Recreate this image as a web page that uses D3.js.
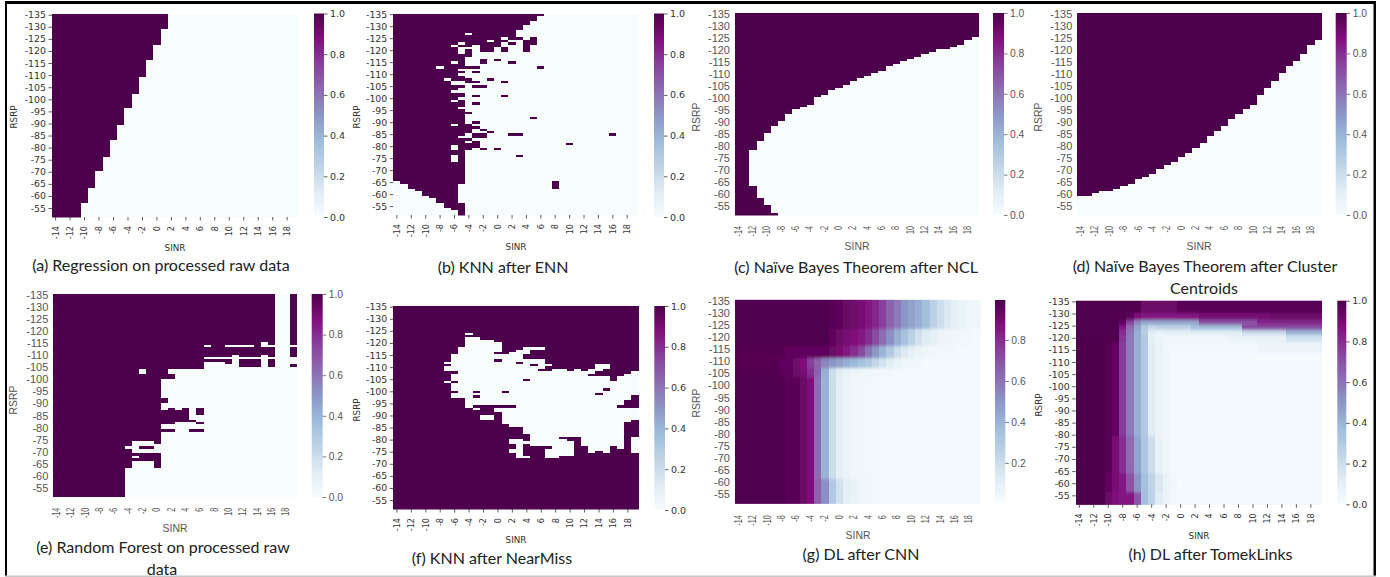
<!DOCTYPE html>
<html>
<head>
<meta charset="utf-8">
<script src="https://cdn.jsdelivr.net/npm/d3@7"></script>
<style>
  html, body { margin: 0; padding: 0; background: #fff; }
  svg { display: block; }
</style>
</head>
<body>
<script>
// axis values, one cell per dB
var sinrValues = d3.range(-14, 20);
var rsrpValues = d3.range(-135, -51);
var sinrTicks = [-14, -12, -10, -8, -6, -4, -2, 0, 2, 4, 6, 8, 10, 12, 14, 16, 18];
var rsrpTicks = [-135, -130, -125, -120, -115, -110, -105, -100, -95, -90, -85, -80, -75, -70, -65, -60, -55];
var barTicks = [0, 0.2, 0.4, 0.6, 0.8, 1];
var barTicksCnn = [0.2, 0.4, 0.6, 0.8];

var buPuStops = [0, 0.125, 0.25, 0.375, 0.5, 0.625, 0.75, 0.875, 1];
var buPuColors = ["#f7fcfd", "#e0ecf4", "#bfd3e6", "#9ebcda", "#8c96c6", "#8c6bb1", "#88419d", "#810f7c", "#4d004b"];

// binary panels are lists of [sinrFrom, sinrTo, rsrpFrom, rsrpTo] blocks, value 1 then holes of value 0
var regressionOnes = [
  [-14, 1, -135, -130], [-14, 0, -129, -123], [-14, -1, -122, -117], [-14, -2, -116, -110],
  [-14, -3, -109, -103], [-14, -4, -102, -97], [-14, -5, -96, -90], [-14, -6, -89, -84],
  [-14, -7, -83, -77], [-14, -8, -76, -71], [-14, -9, -70, -64], [-14, -10, -63, -58], [-14, -11, -57, -52]
];

var ennOnes = [
  [-14, 6, -135, -135], [-14, 5, -134, -133], [-14, 4, -132, -131], [-14, 3, -130, -129], [-14, 2, -128, -126],
  [-14, 3, -125, -125], [5, 5, -125, -123], [-14, 1, -124, -124], [-14, 0, -123, -123], [2, 2, -123, -123],
  [-14, -4, -122, -122], [-2, 0, -122, -122], [4, 4, -124, -120], [-2, -1, -121, -120], [1, 1, -121, -120],
  [-4, -4, -120, -118], [-2, -2, -116, -115], [0, 0, -116, -116], [2, 2, -115, -115],
  [-4, -3, -113, -113], [6, 6, -113, -113], [-3, -3, -111, -111], [-4, -4, -108, -107], [-1, -1, -108, -108],
  [-3, -3, -107, -107], [1, 1, -107, -107], [-3, -2, -105, -105], [-3, -3, -101, -101], [1, 1, -101, -101],
  [-3, -3, -98, -98], [-4, -4, -94, -94], [5, 5, -92, -92], [-3, -3, -90, -90], [-4, -4, -89, -86],
  [-3, -3, -88, -88], [-2, -2, -87, -87], [-1, -1, -86, -86], [-3, -2, -85, -84], [2, 3, -85, -85],
  [16, 16, -85, -85], [-4, -4, -83, -83], [-3, -3, -82, -80], [-4, -4, -81, -79], [10, 10, -81, -81],
  [-2, -2, -79, -79], [0, 0, -79, -79], [3, 3, -76, -76], [8, 8, -65, -63],
  [-14, -14, -121, -66], [-13, -13, -121, -65], [-12, -12, -121, -63], [-11, -11, -121, -62], [-10, -10, -121, -60],
  [-9, -9, -121, -59], [-8, -8, -121, -57], [-7, -7, -121, -55], [-6, -6, -121, -54], [-5, -5, -121, -52]
];
var ennZeros = [
  [-4, -4, -127, -127], [1, 1, -125, -125], [-1, -1, -124, -124], [-5, -5, -123, -123], [-6, -6, -122, -122], [-5, -5, -121, -119],
  [-6, -6, -115, -115], [-8, -8, -113, -113], [-5, -5, -112, -112], [-5, -5, -110, -110], [-7, -7, -108, -108],
  [-6, -5, -107, -106], [-5, -5, -104, -103], [-6, -6, -103, -103], [-5, -5, -100, -100], [-6, -6, -99, -99],
  [-5, -5, -96, -96], [-6, -6, -89, -89], [-5, -5, -84, -84], [-6, -6, -80, -79], [-6, -6, -76, -74], [-5, -5, -64, -57]
];

// last RSRP with value 1, per SINR column
var nclTopEdge = [-52, -52, -79, -83, -86, -89, -91, -94, -96, -97, -98, -101, -102, -104, -105, -106, -108,
  -109, -110, -111, -112, -114, -115, -116, -117, -118, -119, -120, -121, -121, -122, -123, -125, -126];
var nclOnes = [[-12, -12, -63, -52], [-11, -11, -58, -52], [-10, -10, -55, -52], [-9, -9, -52, -52]];
var centroidTopEdge = [-60, -60, -61, -62, -62, -63, -64, -65, -67, -68, -69, -71, -73, -74, -76, -78, -80,
  -82, -85, -87, -89, -92, -94, -96, -98, -102, -105, -108, -111, -114, -116, -119, -123, -125];

var forestOnes = [
  [-14, 16, -135, -110], [-14, 6, -109, -109], [-14, 10, -108, -108], [-14, 6, -107, -105], [10, 10, -107, -107],
  [12, 14, -108, -106], [16, 16, -108, -106], [19, 19, -135, -115], [19, 19, -113, -110], [19, 19, -106, -106],
  [-14, 1, -104, -103], [-14, 2, -102, -101], [-14, 0, -100, -93], [-14, 1, -92, -91], [-14, 0, -90, -88],
  [2, 2, -88, -88], [4, 4, -88, -88], [6, 6, -88, -86], [-14, 4, -87, -84], [-14, 5, -83, -83],
  [-14, 2, -82, -82], [6, 6, -82, -82], [-14, 0, -81, -80], [-14, 2, -79, -79], [5, 6, -79, -79],
  [-14, 0, -78, -75], [-14, -4, -74, -73], [0, 0, -74, -74], [-2, -1, -72, -72], [-14, -5, -72, -72],
  [-14, -4, -71, -70], [-14, 0, -69, -67], [-14, -4, -66, -64], [0, 0, -66, -64], [-14, -5, -63, -52]
];
var forestZeros = [
  [7, 7, -114, -114], [10, 13, -114, -114], [15, 15, -115, -114], [16, 16, -114, -114],
  [11, 11, -110, -106], [15, 15, -110, -106], [-2, -2, -104, -103], [-3, -3, -68, -68]
];

var nearMissOnes = [[-14, 19, -135, -52]];
var nearMissZeros = [
  [-7, -7, -112, -112], [-7, -7, -110, -109], [-7, -7, -104, -104],
  [-6, -6, -115, -109], [-6, -6, -107, -105], [-6, -6, -103, -101], [-6, -6, -99, -98],
  [-5, -5, -118, -98], [-4, -4, -124, -124], [-4, -4, -122, -94], [-3, -3, -122, -93],
  [-2, -2, -121, -95], [-2, -2, -90, -89], [-1, -1, -121, -95], [-1, -1, -90, -89],
  [0, 0, -120, -117], [0, 0, -115, -114], [0, 0, -112, -95], [0, 0, -93, -92],
  [1, 1, -115, -87], [2, 2, -116, -86], [2, 2, -80, -79], [2, 2, -76, -75],
  [3, 3, -117, -86], [3, 3, -80, -73], [4, 4, -118, -83], [4, 4, -79, -79], [4, 4, -73, -73],
  [5, 5, -118, -118], [5, 5, -113, -78], [6, 6, -118, -118], [6, 6, -113, -110], [6, 6, -108, -78],
  [7, 7, -111, -111], [7, 7, -108, -78], [7, 7, -76, -73], [8, 8, -109, -73], [9, 9, -109, -74],
  [10, 10, -108, -82], [10, 10, -79, -74], [11, 11, -109, -82], [12, 12, -108, -78],
  [13, 13, -109, -108], [13, 13, -106, -75], [14, 14, -111, -109], [14, 14, -106, -76],
  [15, 15, -111, -110], [15, 15, -106, -75], [16, 16, -104, -78], [17, 17, -106, -77],
  [18, 18, -107, -97], [18, 18, -93, -88], [19, 19, -108, -99], [19, 19, -93, -89], [19, 19, -81, -75]
];
// strips of value 1 left inside the holes above
var nearMissStrips = [
  [-3, -3, -100, -100], [-3, -3, -98, -98], [-3, -3, -94, -94], [-1, 2, -94, -94], [1, 1, -100, -100],
  [3, 3, -112, -112], [4, 4, -115, -114], [4, 4, -105, -105], [5, 5, -111, -111], [9, 9, -81, -81],
  [14, 14, -99, -99], [15, 15, -101, -101], [17, 17, -94, -94]
];

// soft panels: one row of SINR values for each RSRP band
var cnnBands = [[-135, -124], [-123, -117], [-116, -112], [-111, -108], [-107, -104], [-103, -62], [-61, -52]];
var cnnValues = [
  [.99, .99, .99, .99, .99, .99, .99, .99, .99, .99, .99, .99, .99, .97, .96, .94, .92, .90, .86, .82, .75, .65, .58, .50, .46, .42, .36, .26, .20, .14, .10, .07, .05, .04],
  [.99, .99, .99, .99, .99, .99, .99, .99, .99, .99, .99, .99, .99, .95, .93, .90, .88, .85, .80, .72, .62, .52, .42, .34, .26, .18, .12, .09, .06, .05, .04, .03, .03, .02],
  [.98, .98, .98, .98, .98, .98, .98, .96, .96, .96, .96, .96, .96, .93, .90, .85, .80, .72, .60, .50, .40, .30, .20, .14, .09, .06, .05, .04, .03, .03, .03, .02, .02, .02],
  [.98, .98, .98, .98, .98, .98, .96, .95, .92, .88, .75, .65, .55, .50, .46, .42, .38, .34, .30, .24, .18, .12, .08, .05, .04, .03, .02, .02, .02, .02, .02, .02, .02, .02],
  [.99, .99, .99, .99, .99, .99, .97, .96, .93, .90, .80, .65, .42, .20, .12, .08, .06, .05, .04, .04, .03, .03, .02, .02, .02, .02, .02, .02, .02, .02, .02, .02, .02, .02],
  [.99, .99, .99, .99, .99, .99, .99, .97, .97, .93, .87, .62, .40, .20, .10, .06, .05, .04, .03, .03, .02, .02, .02, .02, .02, .02, .02, .02, .02, .02, .02, .02, .02, .02],
  [.99, .99, .99, .99, .99, .99, .99, .97, .97, .93, .87, .65, .52, .30, .18, .10, .08, .05, .04, .03, .02, .02, .02, .02, .02, .02, .02, .02, .02, .02, .02, .02, .02, .02]
];

var tomekBands = [[-135, -131], [-130, -128], [-127, -126], [-125, -124], [-123, -122], [-121, -119], [-118, -115], [-114, -80], [-79, -65], [-64, -57], [-56, -52]];
var tomekValues = [
  [.99, .99, .99, .99, .99, .99, .99, .99, .99, .93, .93, .93, .93, .93, .97, .97, .97, .97, .97, .97, .97, .97, .97, .97, .97, .97, .97, .97, .97, .97, .97, .97, .97, .97],
  [.99, .99, .99, .99, .99, .99, .99, .96, .88, .86, .85, .85, .85, .85, .85, .85, .85, .90, .90, .90, .90, .90, .90, .90, .90, .90, .90, .93, .93, .93, .93, .93, .93, .93],
  [.99, .99, .99, .99, .99, .99, .95, .75, .55, .45, .45, .45, .45, .45, .45, .45, .45, .70, .70, .70, .70, .70, .70, .70, .70, .82, .82, .82, .82, .82, .82, .82, .82, .82],
  [.99, .99, .99, .99, .99, .99, .85, .62, .45, .30, .22, .25, .25, .25, .25, .25, .35, .35, .35, .35, .35, .35, .35, .72, .72, .72, .72, .72, .72, .72, .72, .72, .72, .72],
  [.99, .99, .99, .99, .99, .99, .80, .60, .42, .28, .12, .08, .10, .10, .10, .10, .12, .12, .12, .12, .12, .12, .12, .22, .22, .22, .22, .22, .22, .40, .40, .40, .40, .40],
  [.99, .99, .99, .99, .99, .99, .78, .58, .42, .30, .10, .06, .04, .04, .04, .04, .04, .04, .04, .04, .04, .07, .07, .07, .07, .07, .07, .07, .07, .18, .18, .18, .18, .18],
  [.995, .995, .995, .995, .98, .95, .76, .58, .42, .30, .12, .07, .03, .03, .03, .03, .03, .03, .03, .03, .03, .03, .03, .03, .03, .06, .06, .06, .06, .06, .06, .06, .06, .06],
  [.995, .995, .995, .995, .98, .95, .76, .58, .42, .30, .12, .07, .05, .02, .02, .02, .02, .02, .02, .02, .02, .02, .02, .02, .02, .02, .02, .02, .02, .02, .02, .02, .02, .02],
  [.995, .995, .995, .995, .97, .90, .80, .62, .45, .32, .20, .08, .05, .02, .02, .02, .02, .02, .02, .02, .02, .02, .02, .02, .02, .02, .02, .02, .02, .02, .02, .02, .02, .02],
  [.995, .995, .995, .995, .95, .90, .85, .70, .50, .35, .25, .15, .07, .04, .02, .02, .02, .02, .02, .02, .02, .02, .02, .02, .02, .02, .02, .02, .02, .02, .02, .02, .02, .02],
  [.995, .995, .995, .99, .93, .88, .86, .85, .68, .36, .25, .12, .06, .03, .02, .02, .02, .02, .02, .02, .02, .02, .02, .02, .02, .02, .02, .02, .02, .02, .02, .02, .02, .02]
];

var captions = {
  a: ["(a) Regression on processed raw data"],
  b: ["(b) KNN after ENN"],
  c: ["(c) Naïve Bayes Theorem after NCL"],
  d: ["(d) Naïve Bayes Theorem after Cluster", "Centroids"],
  e: ["(e) Random Forest on processed raw", "data"],
  f: ["(f) KNN after NearMiss"],
  g: ["(g) DL after CNN"],
  h: ["(h) DL after TomekLinks"]
};

var width = 1390, height = 577;
var color = d3.scaleLinear().domain(buPuStops).range(buPuColors);

function inBlock(b, sinr, rsrp) {
  return sinr >= b[0] && sinr <= b[1] && rsrp >= b[2] && rsrp <= b[3];
}

function fromBlocks(ones, zeros, extra) {
  return function(sinr, rsrp) {
    var v = 0;
    ones.forEach(function(b) { if (inBlock(b, sinr, rsrp)) v = 1; });
    (zeros || []).forEach(function(b) { if (inBlock(b, sinr, rsrp)) v = 0; });
    (extra || []).forEach(function(b) { if (inBlock(b, sinr, rsrp)) v = 1; });
    return v;
  };
}

function fromEdge(edge, ones) {
  var blocks = fromBlocks(ones || []);
  return function(sinr, rsrp) {
    return rsrp <= edge[sinrValues.indexOf(sinr)] ? 1 : blocks(sinr, rsrp);
  };
}

function fromBands(bands, values) {
  return function(sinr, rsrp) {
    var i = bands.findIndex(function(b) { return rsrp >= b[0] && rsrp <= b[1]; });
    return values[i][sinrValues.indexOf(sinr)];
  };
}

// notebook = matplotlib default look, seaborn = grey labels and no tick marks
var panels = [
  { id: "a", look: "notebook", value: fromBlocks(regressionOnes), x: [52, 298], y: [14, 217], bar: [314, 324, 13.5, 217], gap: 8, sinr: [175, 248], rsrp: [14, 117], cap: [161, 267] },
  { id: "b", look: "notebook", value: fromBlocks(ennOnes, ennZeros), x: [393.3, 638], y: [13.5, 215], bar: [654, 664, 13.5, 217], gap: 8, sinr: [516, 247], rsrp: [357, 117], cap: [503, 269] },
  { id: "c", look: "seaborn", value: fromEdge(nclTopEdge, nclOnes), x: [735, 978.7], y: [13.3, 215], bar: [993, 1004, 13, 215], gap: 11, sinr: [857, 247], rsrp: [697, 117], cap: [856, 269] },
  { id: "d", look: "seaborn", value: fromEdge(centroidTopEdge), x: [1077.3, 1321.7], y: [13.3, 215], bar: [1335.7, 1346.7, 13, 215], gap: 11, sinr: [1199, 247], rsrp: [1039, 117], cap: [1205, 268] },
  { id: "e", look: "seaborn", value: fromBlocks(forestOnes, forestZeros), x: [53.3, 296.7], y: [294.3, 496.7], bar: [311.7, 322.7, 294, 497], gap: 11, sinr: [175, 529], rsrp: [14, 400], cap: [163, 549] },
  { id: "f", look: "notebook", value: fromBlocks(nearMissOnes, nearMissZeros, nearMissStrips), x: [393.3, 638.7], y: [306, 509], bar: [654.3, 665, 306, 510], gap: 8, sinr: [516, 540], rsrp: [357, 410], cap: [492, 560] },
  { id: "g", look: "seaborn", soft: true, value: fromBands(cnnBands, cnnValues), x: [735, 980], y: [300, 503.3], bar: [995, 1005.3, 300, 503.3], gap: 12, sinr: [858, 536], rsrp: [697, 403], cap: [861, 556], barDomain: [0.003, 0.995], barTicks: barTicksCnn },
  { id: "h", look: "notebook", soft: true, value: fromBands(tomekBands, tomekValues), x: [1075.7, 1321.7], y: [300.7, 504.3], bar: [1337.3, 1346.3, 300.7, 504.3], gap: 8, sinr: [1199, 536], rsrp: [1039, 405], cap: [1210.5, 556] }
];

var looks = {
  notebook: { font: "'DejaVu Sans'", ink: "#333", size: 9.4, xSize: 9, squash: 0.9, bar: 9.5, title: 8.8, tick: 3.5 },
  seaborn: { font: "'Liberation Sans'", ink: "#555", size: 11, xSize: 10, squash: 0.72, bar: 10.3, title: 10.4, tick: 0 }
};

var svg = d3.select("body").append("svg").attr("width", width).attr("height", height);
svg.append("rect").attr("width", width).attr("height", height).attr("fill", "#fff");
var defs = svg.append("defs");

// source picture is a soft screenshot, so the cells get a small blur
defs.append("filter").attr("id", "soften")
  .attr("x", "-2%").attr("y", "-2%").attr("width", "104%").attr("height", "104%")
  .append("feGaussianBlur").attr("stdDeviation", "0.5");
defs.append("filter").attr("id", "soften-more")
  .attr("x", "-2%").attr("y", "-2%").attr("width", "104%").attr("height", "104%")
  .append("feGaussianBlur").attr("stdDeviation", "0.7 1.6");

panels.forEach(drawPanel);
drawFrame();

function drawCells(parent, cells, x, y) {
  parent.attr("shape-rendering", "crispEdges")
    .selectAll("rect")
    .data(cells)
    .join("rect")
    .attr("x", function(d) { return x(d.sinr); })
    .attr("y", function(d) { return y(d.rsrp); })
    .attr("width", x.bandwidth() + 0.5)
    .attr("height", y.bandwidth() + 0.5)
    .attr("fill", function(d) { return color(d.v); });
}

function drawPanel(p) {
  var look = looks[p.look];
  var x = d3.scaleBand().domain(sinrValues).range(p.x);
  var y = d3.scaleBand().domain(rsrpValues).range(p.y);
  var g = svg.append("g").attr("class", "panel-" + p.id).attr("font-family", look.font);

  var cells = [];
  rsrpValues.forEach(function(rsrp) {
    sinrValues.forEach(function(sinr) {
      cells.push({ sinr: sinr, rsrp: rsrp, v: p.value(sinr, rsrp) });
    });
  });

  var clipId = "clip-" + p.id;
  defs.append("clipPath").attr("id", clipId).append("rect")
    .attr("x", p.x[0] - 0.5).attr("y", p.y[0] - 0.5)
    .attr("width", p.x[1] - p.x[0] + 1).attr("height", p.y[1] - p.y[0] + 1);

  var heat = g.append("g").attr("clip-path", "url(#" + clipId + ")");
  // crisp copy underneath so the blur does not fade out at the panel edge
  if (p.soft) drawCells(heat.append("g"), cells, x, y);
  drawCells(heat.append("g").attr("filter", p.soft ? "url(#soften-more)" : "url(#soften)"), cells, x, y);

  var xAxis = g.append("g")
    .attr("transform", "translate(0," + p.y[1] + ")")
    .call(d3.axisBottom(x).tickValues(sinrTicks).tickSize(look.tick).tickSizeOuter(0).offset(0));
  // tick labels are squeezed along their length in the source
  xAxis.selectAll("text")
    .attr("transform", "rotate(-90) scale(" + look.squash + ",1)")
    .attr("x", -(p.gap + (look.tick ? 1 : 0)) / look.squash)
    .attr("y", 0)
    .attr("dy", "0.32em")
    .attr("text-anchor", "end")
    .attr("font-size", look.xSize);

  var yAxis = g.append("g")
    .attr("transform", "translate(" + p.x[0] + ",0)")
    .call(d3.axisLeft(y).tickValues(rsrpTicks).tickSize(look.tick).tickPadding(look.tick ? 2.5 : 5).tickSizeOuter(0).offset(0));
  yAxis.selectAll("text").attr("font-size", look.size);

  [xAxis, yAxis].forEach(function(axis) {
    axis.select(".domain").remove();
    axis.selectAll("line").attr("stroke", look.ink).attr("stroke-width", 0.8);
    axis.selectAll("text").attr("fill", look.ink).attr("font-family", look.font);
  });

  g.append("text")
    .attr("x", p.sinr[0]).attr("y", p.sinr[1])
    .attr("text-anchor", "middle").attr("dominant-baseline", "middle")
    .attr("font-size", look.title).attr("fill", look.ink)
    .text("SINR");

  g.append("text")
    .attr("transform", "translate(" + p.rsrp[0] + "," + p.rsrp[1] + ") rotate(-90)")
    .attr("text-anchor", "middle").attr("dominant-baseline", "middle")
    .attr("font-size", look.title).attr("fill", look.ink)
    .text("RSRP");

  drawBar(g, p, look);

  captions[p.id].forEach(function(line, i) {
    svg.append("text")
      .attr("x", p.cap[0] + (i ? -1 : 0)).attr("y", p.cap[1] + i * 22)
      .attr("text-anchor", "middle").attr("dominant-baseline", "middle")
      .attr("font-family", "Lato").attr("font-size", 16).attr("fill", "#222")
      .text(line);
  });
}

function drawBar(g, p, look) {
  var domain = p.barDomain || [0, 1];
  var scale = d3.scaleLinear().domain(domain).range([p.bar[3], p.bar[2]]);
  var gradId = "bar-" + p.id;

  defs.append("linearGradient")
    .attr("id", gradId)
    .attr("x1", "0%").attr("y1", "100%").attr("x2", "0%").attr("y2", "0%")
    .selectAll("stop")
    .data(buPuStops)
    .join("stop")
    .attr("offset", function(d) { return (d * 100) + "%"; })
    .attr("stop-color", function(d) { return color(d); });

  g.append("rect")
    .attr("x", p.bar[0]).attr("y", p.bar[2])
    .attr("width", p.bar[1] - p.bar[0]).attr("height", p.bar[3] - p.bar[2])
    .attr("fill", "url(#" + gradId + ")");

  var axis = g.append("g")
    .attr("transform", "translate(" + p.bar[1] + ",0)")
    .call(d3.axisRight(scale)
      .tickValues(p.barTicks || barTicks)
      .tickFormat(d3.format(".1f"))
      .tickSize(3.5).tickPadding(2.5).tickSizeOuter(0));
  axis.select(".domain").remove();
  axis.selectAll("line").attr("stroke", look.ink).attr("stroke-width", 0.8);
  axis.selectAll("text").attr("fill", look.ink).attr("font-size", look.bar).attr("font-family", look.font);
}

function drawFrame() {
  var lines = [[5, 1, 1371, 3, "#000"], [5, 1, 2, 576, "#000"], [1373.5, 1, 2.5, 576, "#000"], [5, 575.5, 1371, 1.5, "#c8c8c8"]];
  svg.append("g").selectAll("rect")
    .data(lines)
    .join("rect")
    .attr("x", function(d) { return d[0]; })
    .attr("y", function(d) { return d[1]; })
    .attr("width", function(d) { return d[2]; })
    .attr("height", function(d) { return d[3]; })
    .attr("fill", function(d) { return d[4]; });
}
</script>
</body>
</html>
